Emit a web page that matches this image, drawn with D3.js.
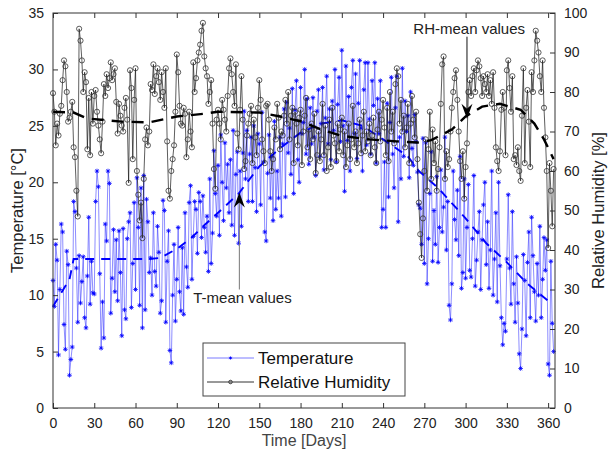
<!DOCTYPE html>
<html>
<head>
<meta charset="utf-8">
<script src="https://cdn.jsdelivr.net/npm/d3@7"></script>
<style>
  body { margin: 0; background: #fff; }
  text { font-family: "Liberation Sans", Arial, sans-serif; }
</style>
</head>
<body>
<div id="vis1"></div>
<script>
// daily temperature [°C], day 0..364
const TEMP = [
  11.3, 9.0, 14.5, 13.1, 4.7, 10.5, 16.3, 15.6, 7.4, 5.2,
  13.9, 12.7, 2.9, 4.3, 5.4, 18.3, 17.4, 12.4, 7.6, 13.5,
  9.3, 11.2, 13.4, 8.0, 7.1, 11.7, 16.9, 9.2, 13.0, 10.2,
  10.1, 18.3, 21.0, 19.6, 11.9, 5.3, 9.4, 6.2, 16.3, 14.8,
  21.0, 19.9, 8.4, 11.5, 15.8, 10.3, 14.9, 9.5, 15.7, 12.0,
  6.4, 15.9, 8.7, 7.9, 15.0, 16.5, 17.3, 8.9, 12.8, 18.2,
  10.5, 20.4, 16.0, 9.1, 19.5, 7.1, 20.6, 8.7, 18.5, 16.5,
  12.0, 13.3, 10.0, 17.3, 12.1, 10.8, 16.1, 13.8, 8.4, 9.5,
  18.4, 17.5, 7.6, 13.0, 15.7, 5.1, 4.0, 10.0, 14.5, 7.7,
  11.4, 16.0, 10.3, 8.6, 14.2, 8.3, 17.3, 12.5, 10.7, 18.2,
  19.7, 11.4, 15.2, 18.3, 17.6, 13.7, 19.1, 18.3, 15.1, 18.8,
  16.0, 13.8, 17.0, 12.1, 20.3, 12.8, 15.5, 22.8, 19.0, 17.0,
  21.5, 15.3, 24.2, 20.0, 16.6, 23.5, 19.5, 21.6, 17.3, 22.0,
  16.2, 24.6, 15.3, 20.7, 22.7, 14.6, 21.0, 16.1, 22.6, 26.3,
  20.3, 24.6, 18.3, 22.5, 24.0, 18.3, 25.0, 21.3, 17.4, 24.3,
  23.4, 18.0, 26.2, 21.8, 15.6, 14.8, 20.8, 24.2, 18.6, 22.3,
  16.6, 25.4, 17.6, 21.0, 18.6, 24.0, 17.0, 23.4, 26.5, 18.7,
  27.1, 22.6, 24.8, 20.7, 28.3, 19.0, 26.4, 29.0, 22.0, 20.0,
  28.4, 24.3, 25.3, 30.0, 22.5, 27.4, 21.6, 26.6, 23.4, 27.5,
  24.0, 20.6, 26.3, 28.2, 22.3, 25.2, 28.4, 21.1, 25.7, 29.4,
  23.4, 26.5, 22.0, 27.2, 24.6, 30.0, 21.8, 26.9, 29.3, 23.6,
  31.7, 25.0, 19.2, 30.3, 23.7, 27.6, 21.0, 28.4, 30.8, 24.3,
  29.6, 22.1, 27.0, 30.8, 24.8, 21.0, 28.2, 30.6, 23.3, 30.6,
  25.6, 22.5, 29.0, 26.8, 30.6, 21.7, 27.4, 24.3, 29.0, 16.0,
  17.6, 21.8, 16.0, 27.0, 18.7, 25.3, 29.3, 22.5, 19.5, 26.6,
  29.4, 16.5, 24.0, 20.3, 30.1, 22.3, 27.2, 24.5, 25.9, 20.4,
  28.0, 23.0, 21.5, 26.0, 23.6, 20.9, 18.0, 17.7, 14.5, 23.9,
  12.8, 23.5, 11.0, 15.0, 19.0, 22.7, 13.0, 17.5, 14.5, 20.5,
  12.9, 16.0, 21.1, 15.6, 17.8, 24.0, 14.0, 18.3, 9.1, 7.8,
  11.0, 21.0, 16.7, 14.9, 19.3, 13.5, 22.3, 10.6, 12.0, 20.3,
  11.5, 16.0, 19.8, 12.2, 11.6, 15.0, 20.6, 10.8, 13.1, 15.6,
  17.4, 10.5, 14.9, 18.0, 20.0, 12.7, 16.5, 10.6, 14.0, 21.0,
  10.0, 13.2, 17.3, 9.4, 20.0, 12.6, 8.0, 5.6, 7.5, 6.8,
  13.2, 18.9, 12.4, 9.2, 17.4, 11.0, 7.6, 13.4, 9.3, 4.8,
  3.5, 7.0, 13.6, 11.3, 6.4, 12.9, 15.6, 8.0, 16.9, 13.5,
  10.3, 7.7, 12.8, 10.0, 16.1, 8.0, 11.4, 15.1, 12.2, 14.9,
  3.9, 2.9, 13.0, 7.5, 5.0
];

// daily relative humidity [%], day 0..364
const RH = [
  79.7, 75.0, 66.5, 72.0, 69.0, 74.5, 76.5, 83.0, 88.0, 86.5,
  80.0, 72.5, 73.5, 75.0, 77.5, 66.0, 63.5, 55.0, 48.5, 96.0,
  93.0, 88.0, 80.0, 85.0, 82.5, 65.5, 78.5, 64.0, 80.0, 72.0,
  79.0, 80.5, 75.0, 71.5, 68.0, 64.5, 72.5, 82.0, 79.0, 84.5,
  81.0, 83.5, 87.5, 83.0, 84.5, 86.0, 77.5, 69.5, 77.0, 74.0,
  71.5, 70.0, 76.0, 78.5, 73.0, 57.0, 85.5, 81.0, 63.0, 78.0,
  86.0, 60.0, 54.0, 47.5, 52.0, 43.0, 58.0, 68.0, 71.0, 66.5,
  70.0, 82.0, 80.5, 87.0, 79.5, 84.0, 86.0, 82.5, 78.0, 85.0,
  80.0, 76.0, 86.0, 67.5, 55.0, 53.0, 60.0, 63.0, 66.5, 75.0,
  89.5, 85.0, 76.5, 72.0, 71.5, 76.0, 74.5, 63.5, 68.0, 75.0,
  70.0, 66.0, 87.5, 80.0, 83.5, 88.0, 90.0, 92.0, 95.5, 97.5,
  89.0, 86.0, 84.0, 77.0, 80.0, 83.0, 72.0, 60.5, 55.5, 73.0,
  75.5, 72.0, 68.0, 78.0, 75.5, 73.0, 70.0, 79.0, 86.0, 88.5,
  84.5, 80.0, 76.5, 87.0, 69.5, 65.5, 75.5, 84.0, 73.0, 60.5,
  62.5, 69.0, 72.0, 74.5, 76.5, 62.0, 73.0, 68.5, 64.0, 76.0,
  83.0, 78.0, 68.0, 65.0, 62.0, 76.5, 77.0, 73.0, 65.0, 60.0,
  63.0, 71.0, 68.0, 77.0, 73.5, 65.5, 70.0, 69.0, 74.0, 78.0,
  72.0, 80.0, 68.0, 74.0, 76.0, 62.0, 75.0, 72.0, 66.5, 73.5,
  75.5, 61.5, 70.0, 74.0, 78.5, 66.0, 70.5, 63.0, 72.0, 68.0,
  74.5, 59.5, 64.0, 70.0, 62.5, 68.0, 77.0, 64.0, 71.5, 60.0,
  66.0, 73.0, 61.0, 76.0, 69.0, 67.0, 62.5, 72.0, 65.0, 70.5,
  73.5, 64.0, 70.0, 61.0, 66.5, 72.0, 63.0, 68.0, 76.5, 66.0,
  70.0, 62.0, 67.0, 73.0, 64.5, 69.0, 75.0, 65.0, 70.0, 67.5,
  72.0, 64.0, 69.0, 73.5, 66.0, 62.0, 70.5, 75.0, 67.5, 73.0,
  78.0, 71.0, 64.0, 76.0, 62.5, 80.0, 70.0, 75.0, 67.0, 82.0,
  86.0, 84.0, 72.0, 78.0, 70.0, 74.0, 66.0, 71.0, 77.0, 62.0,
  72.0, 79.0, 73.0, 68.5, 75.0, 63.0, 52.0, 44.0, 38.0, 48.0,
  60.0, 68.0, 55.0, 65.5, 75.0, 58.0, 70.5, 62.0, 67.5, 55.0,
  60.5, 66.0, 77.0, 87.0, 89.0, 58.0, 65.0, 61.0, 63.0, 70.0,
  76.0, 80.0, 83.5, 85.5, 78.0, 70.0, 62.5, 58.0, 65.0, 53.0,
  61.0, 67.0, 80.0, 83.0, 79.0, 84.0, 86.0, 80.0, 85.5, 88.0,
  86.5, 83.5, 79.0, 84.0, 82.0, 80.0, 84.5, 79.0, 83.0, 77.0,
  85.0, 76.0, 66.0, 62.5, 60.0, 65.0, 75.5, 80.0, 76.0, 64.0,
  85.5, 88.0, 81.0, 75.0, 84.0, 63.0, 64.0, 61.5, 66.0, 60.0,
  57.5, 74.0, 86.0, 62.0, 76.0, 80.5, 72.5, 61.0, 85.0, 80.0,
  88.0, 95.5, 93.0, 90.0, 84.0, 80.0, 88.0, 76.0, 68.5, 60.0,
  40.5, 62.0, 55.0, 46.0, 60.5
];

// mean curves
const T_MEAN_DAYS = [0, 12, 15, 70, 78, 90, 100, 110, 120, 135, 150, 165, 180, 195, 210, 225, 240, 258, 266, 280, 300, 315, 330, 345, 362];
const T_MEAN = [9.0, 11.4, 13.2, 13.2, 13.3, 14.1, 15.0, 16.2, 17.3, 19.0, 21.4, 23.0, 24.4, 25.2, 25.5, 25.0, 23.8, 22.3, 21.0, 19.5, 16.8, 14.6, 12.9, 11.0, 9.3];
const RH_MEAN_DAYS = [0, 15, 25, 50, 70, 90, 110, 120, 150, 165, 180, 195, 210, 230, 250, 265, 275, 290, 300, 312, 325, 340, 350, 357, 364];
const RH_MEAN = [75.0, 74.8, 73.3, 72.5, 72.3, 73.8, 74.5, 75.0, 74.8, 73.8, 72.6, 70.5, 68.9, 68.0, 67.5, 67.2, 67.8, 70.5, 73.8, 76.3, 77.0, 75.5, 72.0, 68.0, 63.0];

const X_TICKS = d3.range(0, 361, 30);
const T_TICKS = d3.range(0, 36, 5);
const RH_TICKS = d3.range(0, 101, 10);

const WIDTH = 612;
const HEIGHT = 457;
const MARG = {left: 53, right: 57, top: 13, bottom: 49};

const svg = d3.select("#vis1")
  .append("svg")
    .attr("width", WIDTH)
    .attr("height", HEIGHT);

const X_SCALE = d3.scaleLinear().domain([0, 365]).range([MARG.left, WIDTH - MARG.right]);
const Y_T = d3.scaleLinear().domain([0, 35]).range([HEIGHT - MARG.bottom, MARG.top]);
const Y_RH = d3.scaleLinear().domain([0, 100]).range([HEIGHT - MARG.bottom, MARG.top]);

const AX_COL = "#333";
const X0 = MARG.left, X1 = WIDTH - MARG.right, Y0 = HEIGHT - MARG.bottom, Y1 = MARG.top;

const plot = svg.append("g");

// temperature series
const tPts = TEMP.map((v, i) => [i, v]);
plot.append("path")
  .datum(tPts)
  .attr("fill", "none")
  .attr("stroke", "#2a2aff")
  .attr("stroke-opacity", 0.6)
  .attr("stroke-width", 0.9)
  .attr("d", d3.line().x(d => X_SCALE(d[0])).y(d => Y_T(d[1])));

function star(r) {
  const a = r * 0.72;
  return `M${-r},0L${r},0M0,${-r}L0,${r}M${-a},${-a}L${a},${a}M${-a},${a}L${a},${-a}`;
}
plot.append("g").selectAll("path")
  .data(tPts)
  .enter().append("path")
    .attr("transform", d => `translate(${X_SCALE(d[0])},${Y_T(d[1])})`)
    .attr("d", star(2.3))
    .attr("stroke", "#0000ff")
    .attr("stroke-width", 0.8);

// T mean sits under the humidity trace
plot.append("path")
  .datum(T_MEAN_DAYS.map((d, i) => [d, T_MEAN[i]]))
  .attr("fill", "none")
  .attr("stroke", "#0000ff")
  .attr("stroke-width", 1.9)
  .attr("stroke-dasharray", "9,7")
  .attr("d", d3.line().x(d => X_SCALE(d[0])).y(d => Y_T(d[1])));

// relative humidity series
const rhPts = RH.map((v, i) => [i, v]);
plot.append("path")
  .datum(rhPts)
  .attr("fill", "none")
  .attr("stroke", "#111")
  .attr("stroke-opacity", 0.85)
  .attr("stroke-width", 0.8)
  .attr("d", d3.line().x(d => X_SCALE(d[0])).y(d => Y_RH(d[1])));

plot.append("g").selectAll("circle")
  .data(rhPts)
  .enter().append("circle")
    .attr("cx", d => X_SCALE(d[0]))
    .attr("cy", d => Y_RH(d[1]))
    .attr("r", 2.6)
    .attr("fill", "none")
    .attr("stroke", "#333")
    .attr("stroke-width", 0.8);

plot.append("path")
  .datum(RH_MEAN_DAYS.map((d, i) => [d, RH_MEAN[i]]))
  .attr("fill", "none")
  .attr("stroke", "#000")
  .attr("stroke-width", 2.4)
  .attr("stroke-dasharray", "12,8")
  .attr("d", d3.line().x(d => X_SCALE(d[0])).y(d => Y_RH(d[1])));

// annotation arrows
function arrow(x, yTip, yTail, dir) {
  const g = svg.append("g");
  g.append("line")
    .attr("x1", x).attr("x2", x)
    .attr("y1", yTip + dir * 8).attr("y2", yTail)
    .attr("stroke", dir > 0 ? "#777" : "#111")
    .attr("stroke-width", 1);
  const L = 15 * dir, W = 5.5, N = 10 * dir;
  g.append("path")
    .attr("d", `M${x},${yTip}L${x - W},${yTip + L}L${x},${yTip + N}L${x + W},${yTip + L}Z`)
    .attr("fill", "#000");
}
arrow(X_SCALE(135.5), Y_T(19.1), Y_T(10.5), 1);
svg.append("text")
  .attr("x", X_SCALE(102)).attr("y", Y_T(9.3))
  .attr("font-size", 15).attr("fill", "#222")
  .text("T-mean values");

arrow(X_SCALE(301), Y_RH(73.2), Y_RH(94), -1);
svg.append("text")
  .attr("x", X_SCALE(262)).attr("y", Y_RH(94.8))
  .attr("font-size", 15).attr("fill", "#222")
  .text("RH-mean values");

// axes (MATLAB-like inward ticks)
svg.append("g")
  .attr("transform", `translate(0,${Y0})`)
  .call(d3.axisBottom(X_SCALE).tickValues(X_TICKS).tickSize(-5).tickSizeOuter(0).tickPadding(10))
  .call(g => g.select(".domain").remove());

svg.append("g")
  .attr("transform", `translate(0,${Y1})`)
  .call(d3.axisTop(X_SCALE).tickValues(X_TICKS).tickSize(-5).tickSizeOuter(0).tickFormat(""))
  .call(g => g.select(".domain").remove());

svg.append("g")
  .attr("transform", `translate(${X0},0)`)
  .call(d3.axisLeft(Y_T).tickValues(T_TICKS).tickSize(-5).tickSizeOuter(0).tickPadding(9))
  .call(g => g.select(".domain").remove());

svg.append("g")
  .attr("transform", `translate(${X1},0)`)
  .call(d3.axisRight(Y_RH).tickValues(RH_TICKS).tickSize(-5).tickSizeOuter(0).tickPadding(9))
  .call(g => g.select(".domain").remove());

svg.selectAll(".tick line").attr("stroke", AX_COL);
svg.selectAll(".tick text")
  .attr("font-size", 14)
  .attr("font-family", "Liberation Sans, Arial, sans-serif")
  .attr("fill", "#222");

svg.append("rect")
  .attr("x", X0).attr("y", Y1)
  .attr("width", X1 - X0).attr("height", Y0 - Y1)
  .attr("fill", "none")
  .attr("stroke", AX_COL)
  .attr("stroke-width", 1);

// axis titles
svg.append("text")
  .attr("x", (X0 + X1) / 2).attr("y", 446)
  .attr("text-anchor", "middle")
  .attr("font-size", 16).attr("fill", "#444")
  .text("Time [Days]");

svg.append("text")
  .attr("transform", `translate(23,${(Y0 + Y1) / 2}) rotate(-90)`)
  .attr("text-anchor", "middle")
  .attr("font-size", 16.5).attr("fill", "#222")
  .text("Temperature [°C]");

svg.append("text")
  .attr("transform", `translate(604,${(Y0 + Y1) / 2}) rotate(-90)`)
  .attr("text-anchor", "middle")
  .attr("font-size", 16.5).attr("fill", "#222")
  .text("Relative Humidity [%]");

// legend
const leg = svg.append("g").attr("transform", "translate(203,343)");
leg.append("rect")
  .attr("width", 202).attr("height", 53)
  .attr("fill", "#fff")
  .attr("stroke", "#444")
  .attr("stroke-width", 1);

leg.append("line")
  .attr("x1", 4).attr("x2", 51).attr("y1", 15).attr("y2", 15)
  .attr("stroke", "#7a7aff").attr("stroke-width", 1);
leg.append("path")
  .attr("transform", "translate(27.5,15)")
  .attr("d", star(1.6))
  .attr("stroke", "#0000ff").attr("stroke-width", 0.8);
leg.append("text")
  .attr("x", 55).attr("y", 21)
  .attr("font-size", 17).attr("fill", "#111")
  .text("Temperature");

leg.append("line")
  .attr("x1", 4).attr("x2", 51).attr("y1", 39).attr("y2", 39)
  .attr("stroke", "#333").attr("stroke-width", 1);
leg.append("circle")
  .attr("cx", 27.5).attr("cy", 39).attr("r", 1.8)
  .attr("fill", "#888").attr("stroke", "#333").attr("stroke-width", 0.8);
leg.append("text")
  .attr("x", 55).attr("y", 45)
  .attr("font-size", 17).attr("fill", "#111")
  .text("Relative Humidity");
</script>
</body>
</html>
